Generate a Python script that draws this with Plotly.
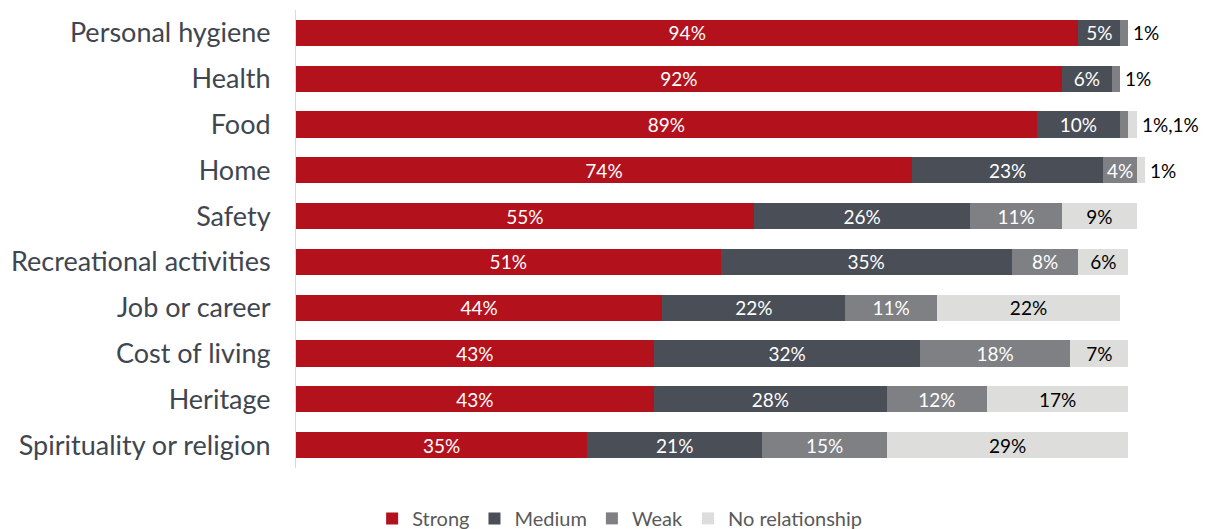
import plotly.graph_objects as go

categories = ["Personal hygiene", "Health", "Food", "Home", "Safety",
              "Recreational activities", "Job or career", "Cost of living",
              "Heritage", "Spirituality or religion"]
strong = [94, 92, 89, 74, 55, 51, 44, 43, 43, 35]
medium = [5, 6, 10, 23, 26, 35, 22, 32, 28, 21]
weak = [1, 1, 1, 4, 11, 8, 11, 18, 12, 15]
no_rel = [0, 0, 1, 1, 9, 6, 22, 7, 17, 29]

series = [
    ("Strong", strong, "#B3121D", "white"),
    ("Medium", medium, "#4A4E57", "white"),
    ("Weak", weak, "#7E8084", "white"),
    ("No relationship", no_rel, "#DDDEDC", "black"),
]

FONT = "Lato"
fig = go.Figure()
for name, vals, color, tcolor in series:
    fig.add_trace(go.Bar(
        y=categories, x=vals, name=name, orientation="h",
        marker=dict(color=color, line=dict(width=0)),
        text=[f"{v}%" if v >= 3 else "" for v in vals],
        textposition="inside", insidetextanchor="middle",
        textfont=dict(color=tcolor, size=19, family=FONT),
        constraintext="none",
    ))

annotations = []
for i, cat in enumerate(categories):
    small = [v for v in (weak[i], no_rel[i]) if 0 < v < 3]
    if small:
        total = strong[i] + medium[i] + weak[i] + no_rel[i]
        annotations.append(dict(
            x=total, y=cat, xref="x", yref="y", xanchor="left", xshift=3,
            text=",".join(f"{v}%" for v in small), showarrow=False,
            font=dict(size=19, color="black", family=FONT)))

fig.update_layout(
    barmode="stack", bargap=0.43,
    width=1207, height=529,
    margin=dict(l=296, r=12, t=10, b=61, autoexpand=False),
    paper_bgcolor="white", plot_bgcolor="white",
    font=dict(family=FONT),
    xaxis=dict(range=[0, 108], visible=False),
    yaxis=dict(autorange="reversed", showline=True, linecolor="#D9D9D9", linewidth=1,
               ticks="", ticklabelstandoff=19, automargin=False,
               tickfont=dict(size=27, color="#404650", family=FONT)),
    legend=dict(orientation="h", x=0.36, xanchor="center", y=-0.11, yanchor="middle",
                font=dict(size=20, color="#595959", family=FONT),
                traceorder="normal"),
    annotations=annotations,
)
fig.write_html(
    "out.html",
    config={"displayModeBar": False},
    post_script="document.body.style.margin='0';document.body.style.overflow='hidden';",
)
